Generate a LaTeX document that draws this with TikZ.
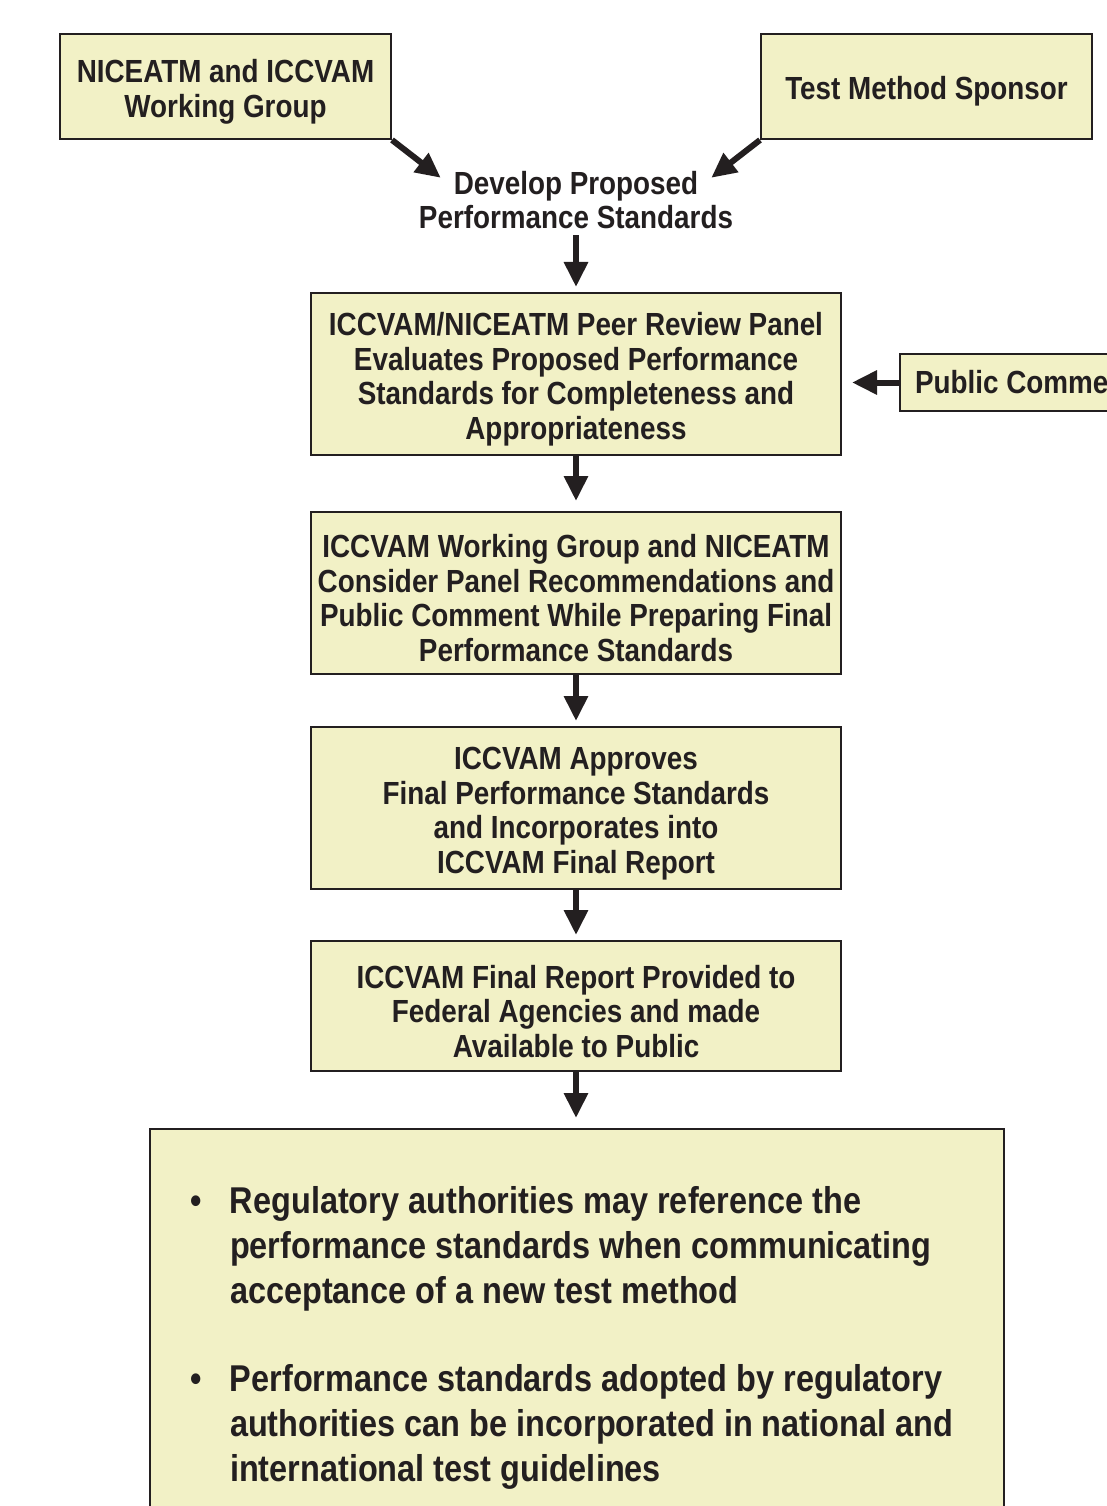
\documentclass[tikz,border=0pt]{standalone}
\usepackage{fontspec}
\setmainfont{Liberation Sans}[FakeStretch=0.87]
\usepackage{xcolor}
\usepackage{tikz}
\usetikzlibrary{arrows.meta,positioning,calc}
\definecolor{boxfill}{HTML}{F2F1C6}
\definecolor{boxline}{HTML}{231F20}
\tikzset{
  stepbox/.style={draw=boxline, fill=boxfill, line width=2pt, align=center, inner sep=0pt,
    text=boxline, font=\bfseries\fontsize{32}{34.5}\selectfont},
  midbox/.style={stepbox, minimum width=530pt, minimum height=162pt},
  plainlab/.style={align=center, inner sep=0pt, text=boxline, font=\bfseries\fontsize{32}{34.5}\selectfont},
  arrow/.style={-{Triangle[length=25pt,width=23pt]}, line width=6pt, draw=boxline},
}
\newcommand{\topgap}{\rule{0pt}{33.5pt}}

\begin{document}
\begin{tikzpicture}[x=1pt, y=1pt, node distance=55pt]
\useasboundingbox (0,0) rectangle (1107,-1506);
\clip (0,0) rectangle (1107,-1506);

% sources
\node[stepbox, minimum width=331pt, minimum height=105pt] (wg) at (225.5,-86.5) {\topgap NICEATM and ICCVAM\\Working Group};
\node[stepbox, minimum width=331pt, minimum height=105pt] (tms) at (926.5,-86.5) {\rule{0pt}{33pt}Test Method Sponsor};
\node[plainlab] (dev) at (576,-200) {Develop Proposed\\Performance Standards};

% main chain
\node[midbox] (prp) at (576,-374) {\topgap ICCVAM/NICEATM Peer Review Panel\\Evaluates Proposed Performance\\Standards for Completeness and\\Appropriateness};
\node[midbox, below=55pt of prp] (wgc) {\topgap ICCVAM Working Group and NICEATM\\Consider Panel Recommendations and\\Public Comment While Preparing Final\\Performance Standards};
\node[midbox, below=51pt of wgc] (app) {\topgap ICCVAM Approves\\Final Performance Standards\\and Incorporates into\\ICCVAM Final Report};
\node[midbox, minimum height=130pt, below=50pt of app] (fr) {\topgap ICCVAM Final Report Provided to\\Federal Agencies and made\\Available to Public};
\node[stepbox, minimum width=260pt, minimum height=57pt, anchor=west] (pc) at (899,-382.5) {\hspace{15pt}Public Comment\hspace{30pt}};

% outcome
\node[stepbox, anchor=north west, align=left, inner xsep=40pt, inner ysep=53pt,
  font=\bfseries\fontsize{37.3}{45}\selectfont] (out) at (149,-1128)
  {\begin{tabular}{@{}p{40pt}@{}p{734pt}@{}}
   \textbullet & Regulatory authorities may reference the\newline performance standards when communicating\newline acceptance of a new test method\\[43pt]
   \textbullet & Performance standards adopted by regulatory\newline authorities can be incorporated in national and\newline international test guidelines\\[60pt]
   \end{tabular}};

% arrows
\draw[arrow] (wg.south east) -- ($(dev.north west)+(22,-7)$);
\draw[arrow] (tms.south west) -- ($(dev.north east)+(-22,-7)$);
\draw[arrow, shorten <=6pt, shorten >=5pt] (dev.south) -- (prp.north);
\draw[arrow, shorten >=10pt] (pc.west) -- (pc.west -| prp.east);
\draw[arrow, shorten >=10pt] (prp) -- (wgc);
\draw[arrow, shorten >=5pt] (wgc) -- (app);
\draw[arrow, shorten >=5pt] (app) -- (fr);
\draw[arrow, shorten >=10pt] (fr.south) -- (fr.south |- out.north);
\end{tikzpicture}
\end{document}
